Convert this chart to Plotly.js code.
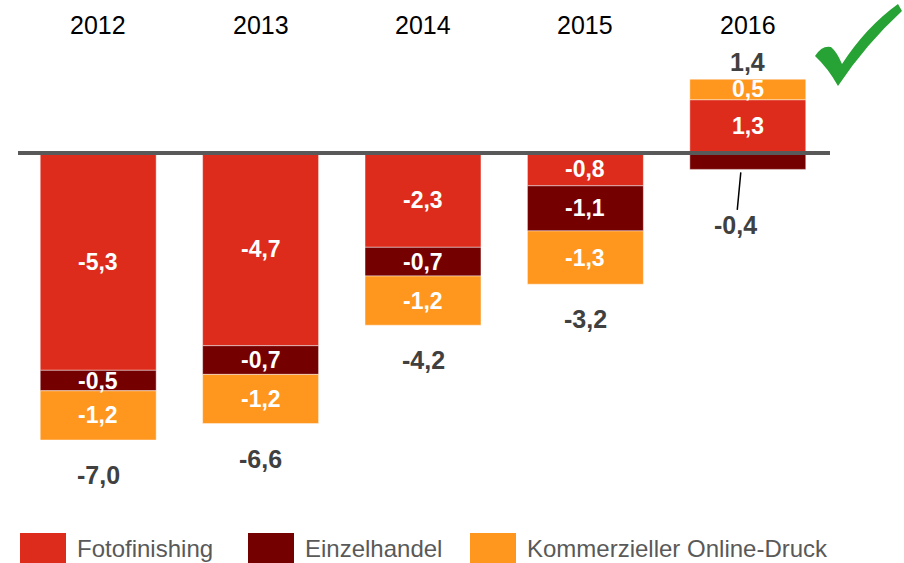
<!DOCTYPE html>
<html>
<head>
<meta charset="utf-8">
<script src="https://cdn.plot.ly/plotly-3.0.1.min.js"></script>
<style>html,body{margin:0;padding:0;background:#fff;}#chart{width:904px;height:563px;}</style>
</head>
<body>
<div id="chart"></div>
<script>
// ---- data ----
const years = ['2012', '2013', '2014', '2015', '2016'];
const fotofinishing = [-5.3, -4.7, -2.3, -0.8, 1.3];
const einzelhandel = [-0.5, -0.7, -0.7, -1.1, -0.4];
const kommerziell = [-1.2, -1.2, -1.2, -1.3, 0.5];
const seriesNames = ['Fotofinishing', 'Einzelhandel', 'Kommerzieller Online-Druck'];
const colors = ['#DD2C1C', '#750000', '#FF961E'];

// ---- layout geometry ----
const W = 904, H = 563;
const M = {l: 17, r: 75, t: 0, b: 43};
const PW = W - M.l - M.r, PH = H - M.t - M.b;
const pxX = x => (x - M.l) / PW;
const pxY = y => 1 - (y - M.t) / PH;
const xs = years.map((_, i) => i);
const fmt = v => v.toFixed(1).replace('.', ',');

const allSeries = [fotofinishing, einzelhandel, kommerziell];
const FAM = 'Liberation Sans, Arial, sans-serif';
const labelFont = {family: FAM, size: 23, color: '#ffffff', weight: 'bold'};
const totalFont = {family: FAM, size: 25, color: '#404040', weight: 'bold'};

const traces = allSeries.map((vals, k) => ({
  type: 'bar',
  name: seriesNames[k],
  x: xs,
  y: vals,
  width: 0.714,
  marker: {color: colors[k], line: {color: 'rgba(255,255,255,0.45)', width: 1}},
  textposition: 'none',
  hoverinfo: 'skip',
  showlegend: false
}));

const annotations = [];
// year labels
years.forEach((yr, i) => {
  annotations.push({x: i, xref: 'x', y: pxY(25), yref: 'paper', text: yr, showarrow: false,
    yanchor: 'middle', font: {family: FAM, size: 25, color: '#000000'}});
});
// segment labels (centred in each stacked segment)
years.forEach((_, i) => {
  let posBase = 0, negBase = 0;
  allSeries.forEach((vals, k) => {
    const v = vals[i];
    let mid;
    if (v >= 0) { mid = posBase + v / 2; posBase += v; }
    else { mid = negBase + v / 2; negBase += v; }
    if (Math.abs(v) >= 0.45) {
      annotations.push({x: i, y: mid, text: fmt(v), showarrow: false, yanchor: 'middle', font: labelFont});
    } else {
      annotations.push({x: i, y: negBase, xshift: -7, yshift: -3, text: fmt(v), showarrow: true, arrowhead: 0,
        arrowwidth: 1.5, arrowcolor: '#000000', ax: -5, ay: 53, standoff: 0, font: totalFont});
    }
  });
  const vals = allSeries.map(s => s[i]);
  const total = vals.reduce((a, b) => a + b, 0);
  if (total >= 0) {
    annotations.push({x: i, y: posBase, text: fmt(total), showarrow: false, yanchor: 'middle', yshift: 17, font: totalFont});
  } else {
    annotations.push({x: i, y: negBase, text: fmt(total), showarrow: false, yanchor: 'middle', yshift: -35, font: totalFont});
  }
});
// legend text
const legendX = [20, 248, 470];
seriesNames.forEach((n, k) => {
  annotations.push({x: pxX(legendX[k] + 55), xref: 'paper', y: pxY(548), yref: 'paper', text: n, showarrow: false,
    xanchor: 'left', yanchor: 'middle', font: {family: FAM, size: 24, color: '#595959'}});
});

const shapes = [];
// zero line
shapes.push({type: 'line', xref: 'paper', x0: pxX(18), x1: pxX(830), yref: 'y', y0: 0, y1: 0,
  line: {color: '#595959', width: 4}, layer: 'above'});
// legend squares
colors.forEach((c, k) => {
  shapes.push({type: 'rect', xref: 'paper', yref: 'paper', x0: pxX(legendX[k]), x1: pxX(legendX[k] + 46),
    y0: pxY(533), y1: pxY(563), fillcolor: c, line: {width: 0}});
});
// check mark
const ck = [['M', 815, 56], ['Q', 822, 45, 831, 47], ['Q', 837, 52, 842, 64], ['Q', 866, 27, 898, 4],
            ['L', 902, 11], ['Q', 866, 44, 838, 86], ['Q', 828, 68, 815, 56]];
const ckPath = ck.map(seg => {
  let s = seg[0];
  for (let j = 1; j < seg.length; j += 2) s += ' ' + pxX(seg[j]).toFixed(5) + ',' + pxY(seg[j + 1]).toFixed(5);
  return s;
}).join(' ') + ' Z';
shapes.push({type: 'path', xref: 'paper', yref: 'paper', path: ckPath, fillcolor: '#27A234', line: {width: 0}});

const layout = {
  width: W, height: H,
  margin: M,
  paper_bgcolor: '#ffffff', plot_bgcolor: '#ffffff',
  barmode: 'relative',
  separators: ',.',
  showlegend: false,
  xaxis: {range: [-0.5, 4.5], showgrid: false, zeroline: false, showline: false, showticklabels: false, ticks: '', fixedrange: true},
  yaxis: {range: [-(PH - 153) / 41, 153 / 41], showgrid: false, zeroline: false, showline: false, showticklabels: false, ticks: '', fixedrange: true},
  annotations: annotations,
  shapes: shapes
};

Plotly.newPlot('chart', traces, layout, {staticPlot: true, displayModeBar: false});
</script>
</body>
</html>
